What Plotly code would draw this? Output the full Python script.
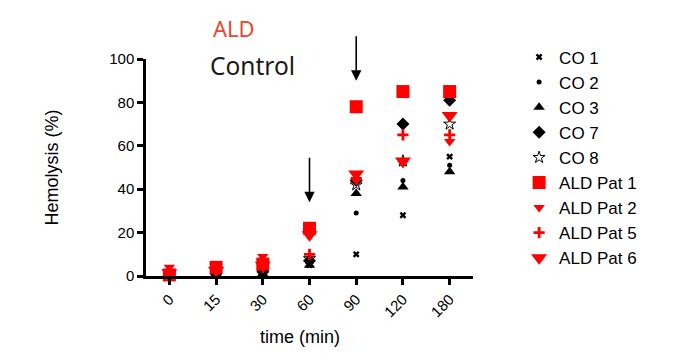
import plotly.graph_objects as go

times = ["0", "15", "30", "60", "90", "120", "180"]

co1 = [0.5, 1, 1, 5, 10, 28, 55]
co2 = [0.5, 1, 2, 6, 29, 44, 51]
co3 = [0.5, 1, 1, 5, 38, 41, 48]
co7 = [1, 1, 2, 7, 44, 70, 81]
co8 = [1, 2, 2, 8, 42, 53, 70]
pat1 = [0.5, 4, 5.5, 22, 78, 85, 85]
pat2 = [4, 3, 9, 20, 44, 52, 62]
pat5 = [1, 2, 4, 10, 45, 65, 65]
pat6 = [1.5, 2.5, 5, 19, 47, 53, 74]

y_ticks = [0, 20, 40, 60, 80, 100]
arrow_times = ["60", "90"]
arrow_tips = [34, 90]

RED = "#ff0000"
BLK = "#000000"

series = [
    ("CO 1", co1, "x", 6, BLK, None),
    ("CO 2", co2, "circle", 5, BLK, None),
    ("CO 3", co3, "triangle-up", 10, BLK, None),
    ("CO 7", co7, "diamond", 10, BLK, None),
    ("CO 8", co8, "star-open", 9, BLK, 1),
    ("ALD Pat 1", pat1, "square", 13, RED, None),
    ("ALD Pat 2", pat2, "triangle-down", 10, RED, None),
    ("ALD Pat 5", pat5, "cross-thin-open", 8, RED, 2.8),
    ("ALD Pat 6", pat6, "triangle-down", 14, RED, None),
]

fig = go.Figure()
for name, vals, sym, size, col, lw in series:
    marker = dict(symbol=sym, size=size, color=col)
    if lw is not None:
        marker["line"] = dict(color=col, width=lw)
    else:
        marker["line"] = dict(width=0)
    fig.add_trace(go.Scatter(
        x=times, y=vals, mode="markers", name=name, marker=marker,
        cliponaxis=False,
    ))

for t, tip in zip(arrow_times, arrow_tips):
    fig.add_annotation(
        x=times.index(t), y=tip, xref="x", yref="y",
        showarrow=True, ax=0, ay=-46, axref="pixel", ayref="pixel",
        arrowhead=2, arrowsize=1.3, arrowwidth=1.6, arrowcolor="black",
        text="",
    )

fig.add_annotation(text="ALD", xref="paper", yref="paper", x=0.199, y=1.143,
                   xanchor="left", yanchor="middle", showarrow=False,
                   font=dict(family="Noto Sans", size=22, color="#e8472e"))
fig.add_annotation(text="Control", xref="paper", yref="paper", x=0.190, y=0.972,
                   xanchor="left", yanchor="middle", showarrow=False,
                   font=dict(family="Noto Sans", size=24.5, color="#1a1a1a"))
fig.add_annotation(text="time (min)", xref="paper", yref="paper", x=0.471, y=-0.281,
                   xanchor="center", yanchor="middle", showarrow=False,
                   font=dict(size=18))

fig.update_layout(
    width=677, height=356,
    margin=dict(l=138, r=212, t=51, b=88),
    plot_bgcolor="white", paper_bgcolor="white",
    font=dict(family="Liberation Sans, Arial", size=15, color="black"),
    showlegend=True,
    legend=dict(x=1.141, y=1.09, xanchor="left", yanchor="top",
                font=dict(size=17), bgcolor="rgba(0,0,0,0)",
                itemsizing="trace", maxheight=1),
    xaxis=dict(
        type="category", categoryorder="array", categoryarray=times,
        range=[-0.5, 6.5], showline=True, linecolor="black", linewidth=2.5,
        ticks="outside", ticklen=6, tickwidth=2.5, tickcolor="black",
        tickangle=-45, showgrid=False, zeroline=False,
    ),
    yaxis=dict(
        range=[0, 100], tickvals=y_ticks, showline=True, linecolor="black",
        linewidth=2.5, ticks="outside", ticklen=6, tickwidth=2.5,
        tickcolor="black", showgrid=False, zeroline=False,
        title=dict(text="Hemolysis (%)", font=dict(size=18), standoff=46),
    ),
)

fig.write_html("out.html")
